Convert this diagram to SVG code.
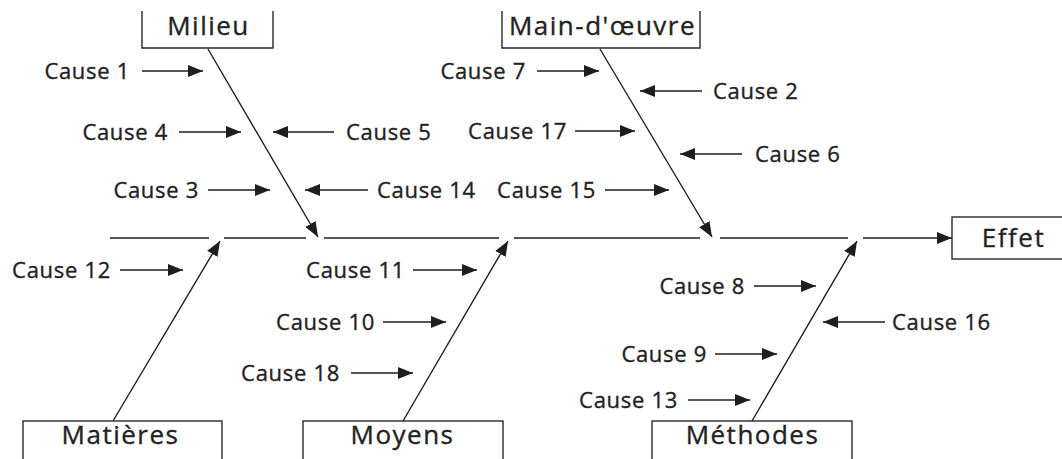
<svg xmlns="http://www.w3.org/2000/svg" width="1062" height="459" viewBox="0 0 1062 459">
<style>
.bg{fill:#ffffff}
.box{fill:#ffffff;stroke:#2a2a2a;stroke-width:1.4}
.lbl{font-family:"Open Sans","Liberation Sans",sans-serif;font-size:26px;letter-spacing:1.5px;fill:#222222;stroke:#222222;stroke-width:0.35;text-anchor:middle}
.cause{font-family:"Open Sans","Liberation Sans",sans-serif;font-size:22px;letter-spacing:0.7px;fill:#222222;stroke:#222222;stroke-width:0.35}
.r{text-anchor:end}
.l{text-anchor:start}
.ln{stroke:#1e1e1e;stroke-width:1.4;fill:none}
.ar{stroke:#1e1e1e;stroke-width:1.4;fill:none;marker-end:url(#ah)}
</style>
<defs>
<marker id="ah" markerUnits="userSpaceOnUse" markerWidth="16" markerHeight="12" refX="15" refY="6" orient="auto" viewBox="0 0 16 12">
<path d="M0,0 L15,6 L0,12 z" fill="#1e1e1e"/>
</marker>
</defs>
<rect class="bg" x="0" y="0" width="1062" height="459"/>

<g id="node-milieu">
<path class="box" d="M142,11 V48 H273 V11"/>
<text class="lbl" x="208.5" y="35">Milieu</text>
</g>
<g id="node-main-oeuvre">
<path class="box" d="M502,11 V48 H700 V11"/>
<text class="lbl" x="602.5" y="35">Main-d'œuvre</text>
</g>
<g id="node-effet">
<rect class="box" x="952" y="217" width="130" height="42"/>
<text class="lbl" x="1013.5" y="247">Effet</text>
</g>
<g id="node-matieres">
<rect class="box" x="23" y="421" width="199" height="60"/>
<text class="lbl" x="120.5" y="444">Matières</text>
</g>
<g id="node-moyens">
<rect class="box" x="303" y="421" width="200" height="60"/>
<text class="lbl" x="402.5" y="444">Moyens</text>
</g>
<g id="node-methodes">
<rect class="box" x="652" y="421" width="200" height="60"/>
<text class="lbl" x="752.5" y="444">Méthodes</text>
</g>

<g id="connectors">
<line class="ln" x1="110" y1="238" x2="209" y2="238"/>
<line class="ln" x1="224" y1="238" x2="306" y2="238"/>
<line class="ln" x1="324" y1="238" x2="499" y2="238"/>
<line class="ln" x1="514" y1="238" x2="700" y2="238"/>
<line class="ln" x1="720" y1="238" x2="848" y2="238"/>
<line class="ar" x1="863" y1="238" x2="952" y2="238"/>

<line class="ar" x1="208" y1="49" x2="318" y2="237"/>
<line class="ar" x1="600" y1="49" x2="712" y2="237"/>
<line class="ar" x1="113" y1="421" x2="220" y2="241"/>
<line class="ar" x1="403" y1="421" x2="508" y2="241"/>
<line class="ar" x1="752" y1="421" x2="857" y2="241"/>

<line class="ar" x1="142" y1="71" x2="203" y2="71"/>
<line class="ar" x1="179" y1="132" x2="241" y2="132"/>
<line class="ar" x1="208" y1="190" x2="270" y2="190"/>
<line class="ar" x1="334" y1="132" x2="273" y2="132"/>
<line class="ar" x1="368" y1="190" x2="305" y2="190"/>
<line class="ar" x1="537" y1="71" x2="599" y2="71"/>
<line class="ar" x1="702" y1="91" x2="640" y2="91"/>
<line class="ar" x1="575" y1="131" x2="635" y2="131"/>
<line class="ar" x1="742" y1="154" x2="680" y2="154"/>
<line class="ar" x1="605" y1="190" x2="669" y2="190"/>
<line class="ar" x1="120" y1="270" x2="183" y2="270"/>
<line class="ar" x1="413" y1="270" x2="477" y2="270"/>
<line class="ar" x1="383" y1="322" x2="446" y2="322"/>
<line class="ar" x1="351" y1="373" x2="413" y2="373"/>
<line class="ar" x1="754" y1="286" x2="816" y2="286"/>
<line class="ar" x1="885" y1="322" x2="823" y2="322"/>
<line class="ar" x1="715" y1="354" x2="777" y2="354"/>
<line class="ar" x1="688" y1="400" x2="750" y2="400"/>
</g>

<g id="cause-1"><text class="cause r" x="130" y="79">Cause 1</text></g>
<g id="cause-4"><text class="cause r" x="168" y="140">Cause 4</text></g>
<g id="cause-3"><text class="cause r" x="199" y="198">Cause 3</text></g>
<g id="cause-5"><text class="cause l" x="346" y="140">Cause 5</text></g>
<g id="cause-14"><text class="cause l" x="377" y="198">Cause 14</text></g>
<g id="cause-7"><text class="cause r" x="526" y="79">Cause 7</text></g>
<g id="cause-2"><text class="cause l" x="713" y="99">Cause 2</text></g>
<g id="cause-17"><text class="cause r" x="567" y="139">Cause 17</text></g>
<g id="cause-6"><text class="cause l" x="755" y="162">Cause 6</text></g>
<g id="cause-15"><text class="cause r" x="596" y="198">Cause 15</text></g>
<g id="cause-12"><text class="cause r" x="111" y="278">Cause 12</text></g>
<g id="cause-11"><text class="cause r" x="405" y="278">Cause 11</text></g>
<g id="cause-10"><text class="cause r" x="375" y="330">Cause 10</text></g>
<g id="cause-18"><text class="cause r" x="340" y="381">Cause 18</text></g>
<g id="cause-8"><text class="cause r" x="745" y="294">Cause 8</text></g>
<g id="cause-16"><text class="cause l" x="892" y="330">Cause 16</text></g>
<g id="cause-9"><text class="cause r" x="707" y="362">Cause 9</text></g>
<g id="cause-13"><text class="cause r" x="678" y="408">Cause 13</text></g>
</svg>
